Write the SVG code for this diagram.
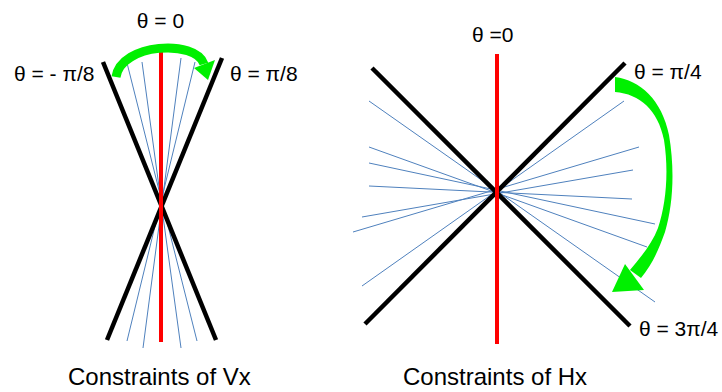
<svg xmlns="http://www.w3.org/2000/svg" width="722" height="392" viewBox="0 0 722 392">
<style>
.blk{stroke:#000;stroke-width:4.5;fill:none}
.red{stroke:#ff0000;stroke-width:4;fill:none}
.blu{stroke:#4f81bd;stroke-width:1;fill:none}
.grn{fill:#00f000}
.lbl{font-family:"Liberation Sans",Arial,sans-serif;font-size:21px;fill:#000}
.cap{font-family:"Liberation Sans",Arial,sans-serif;font-size:24px;fill:#000}
</style>
<rect width="722" height="392" fill="#fff"/>
<g id="vx">
  <g id="vx-rays">
    <line class="blu" x1="127" y1="63" x2="197" y2="341"/>
    <line class="blu" x1="142" y1="62" x2="181" y2="348"/>
    <line class="blu" x1="181" y1="58" x2="143" y2="348"/>
    <line class="blu" x1="195" y1="62" x2="127" y2="341"/>
  </g>
  <line class="blk" x1="103" y1="62" x2="216" y2="340"/>
  <line class="blk" x1="222" y1="58" x2="107" y2="340"/>
  <line class="red" x1="161" y1="52" x2="161" y2="342"/>
  <g id="vx-arrow">
    <path d="M116 77 C121 43 196 39 204 64" fill="none" stroke="#00f000" stroke-width="9"/>
    <polygon class="grn" points="194,68 215,60 208,80"/>
  </g>
  <text class="lbl" x="160.5" y="28" text-anchor="middle">θ = 0</text>
  <text class="lbl" x="14" y="81">θ = - π/8</text>
  <text class="lbl" x="230" y="81">θ = π/8</text>
  <text class="cap" x="68" y="385">Constraints of Vx</text>
</g>
<g id="hx">
  <g id="hx-rays">
    <line class="blu" x1="369" y1="101" x2="655" y2="302"/>
    <line class="blu" x1="369" y1="147" x2="647" y2="247"/>
    <line class="blu" x1="369" y1="163" x2="655" y2="224"/>
    <line class="blu" x1="369" y1="186" x2="632" y2="199"/>
    <line class="blu" x1="362" y1="217" x2="633" y2="170"/>
    <line class="blu" x1="353" y1="232" x2="639" y2="147"/>
    <line class="blu" x1="362" y1="286" x2="624" y2="101"/>
  </g>
  <line class="blk" x1="372" y1="68" x2="630" y2="326"/>
  <line class="blk" x1="625" y1="63" x2="365" y2="324"/>
  <line class="red" x1="497" y1="54" x2="497" y2="344"/>
  <g id="hx-arrow">
    <path class="grn" d="M615 77 C640 80 662 100 669 135 C675 170 673 205 665 232 C658 252 651 266 641 278 L630 270 C640 258 652 244 658 228 C666 204 669 172 664 140 C658 110 640 94 615 92 Z"/>
    <polygon class="grn" points="612,292 625,264 644,290"/>
  </g>
  <text class="lbl" x="472" y="42">θ =0</text>
  <text class="lbl" x="634" y="79">θ = π/4</text>
  <text class="lbl" x="639" y="336">θ = 3π/4</text>
  <text class="cap" x="403" y="385">Constraints of Hx</text>
</g>
</svg>
